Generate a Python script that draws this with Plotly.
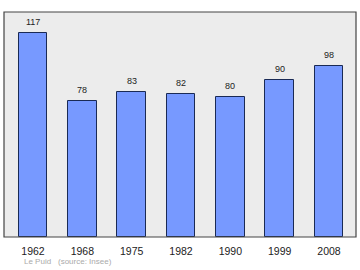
import plotly.graph_objects as go

years = ["1962", "1968", "1975", "1982", "1990", "1999", "2008"]
population = [117, 78, 83, 82, 80, 90, 98]
footer_place = "Le Puid"
footer_source = "(source: Insee)"

xs = list(range(len(years)))
FONT = "Liberation Sans, Arial, sans-serif"

fig = go.Figure()
fig.add_trace(go.Bar(
    x=xs, y=population,
    width=0.58,
    marker=dict(color="#7799ff", line=dict(color="#1a2a55", width=1)),
))

annotations = [
    dict(x=x, y=v, text=str(v), xref="x", yref="y", showarrow=False,
         yanchor="middle", yshift=11,
         font=dict(family=FONT, size=9, color="#222"))
    for x, v in zip(xs, population)
]
annotations += [
    dict(text=footer_place, xref="paper", yref="paper", x=0.051, y=-0.111,
         xanchor="left", yanchor="middle", showarrow=False,
         font=dict(family=FONT, size=8, color="#aaaaaa")),
    dict(text=footer_source, xref="paper", yref="paper", x=0.148, y=-0.111,
         xanchor="left", yanchor="middle", showarrow=False,
         font=dict(family=FONT, size=8, color="#aaaaaa")),
]

fig.update_layout(
    width=360, height=270,
    margin=dict(l=4, r=4, t=12, b=33),
    paper_bgcolor="white",
    plot_bgcolor="#ececec",
    showlegend=False,
    bargap=0,
    xaxis=dict(range=[-0.588, 6.548], tickvals=xs, ticktext=years,
               showgrid=False, zeroline=False, ticks="",
               ticklabelstandoff=6,
               tickfont=dict(family=FONT, size=10.5, color="#222"),
               showline=False),
    yaxis=dict(range=[0, 129], showgrid=False, zeroline=False,
               showticklabels=False, ticks="", showline=False),
    shapes=[dict(type="rect", xref="paper", yref="paper", x0=0, y0=0, x1=1, y1=1,
                 line=dict(color="#444", width=1.2))],
    annotations=annotations,
)

fig.write_html("out.html")
